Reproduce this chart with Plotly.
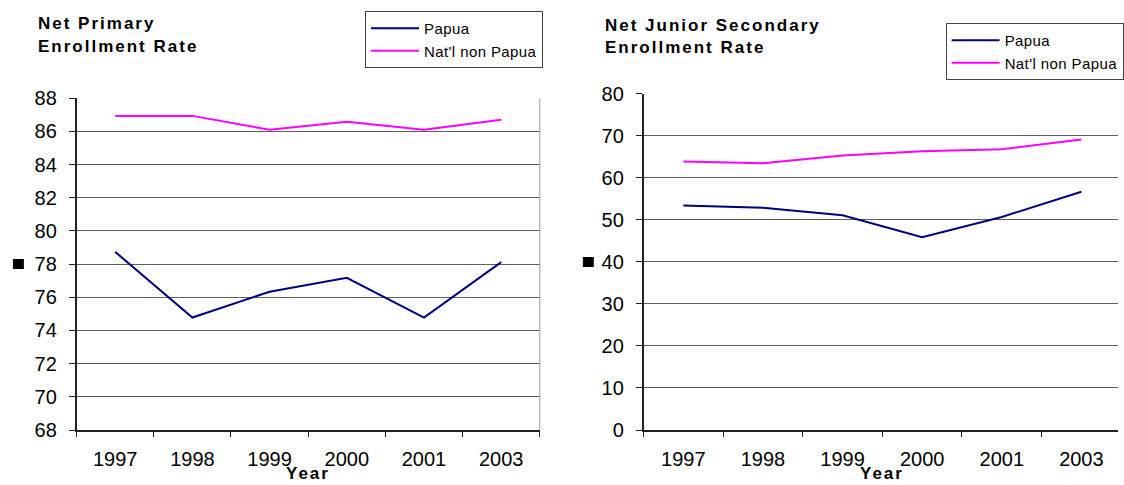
import plotly.graph_objects as go

# Enrollment rates by year
years = ["1997", "1998", "1999", "2000", "2001", "2003"]
primary_papua = [78.74, 74.78, 76.34, 77.18, 74.78, 78.12]
primary_national = [86.94, 86.94, 86.10, 86.58, 86.10, 86.70]
junior_papua = [53.4, 52.9, 51.1, 45.9, 50.7, 56.7]
junior_national = [63.9, 63.5, 65.3, 66.3, 66.8, 69.1]

series_names = ["Papua", "Nat'l non Papua"]
series_colors = ["#000080", "#FF00FF"]

W, H = 1124, 485
FONT = "Liberation Sans, Arial, sans-serif"


def fx(px):
    return px / W


def fy(px):
    return 1 - px / H


def spaced(text, spacing):
    return f"<span style='letter-spacing:{spacing}px'>{text}</span>"


fig = go.Figure()

for name, color, ys in zip(series_names, series_colors, [primary_papua, primary_national]):
    fig.add_trace(go.Scatter(
        x=years, y=ys, name=spaced(name, 0.4), mode="lines",
        line=dict(color=color, width=2),
        xaxis="x", yaxis="y", legend="legend",
    ))

for name, color, ys in zip(series_names, series_colors, [junior_papua, junior_national]):
    fig.add_trace(go.Scatter(
        x=years, y=ys, name=spaced(name, 0.4), mode="lines",
        line=dict(color=color, width=2),
        xaxis="x2", yaxis="y2", legend="legend2",
    ))

tick_font = dict(size=20, color="black", family=FONT)

xcommon = dict(
    type="category", tickson="boundaries", ticks="outside", ticklen=5,
    tickcolor="#222", showline=True, linecolor="#222", linewidth=1.5,
    showgrid=False, tickfont=tick_font, ticklabelstandoff=10,
    automargin=False, fixedrange=True,
)
ycommon = dict(
    ticks="outside", ticklen=6, tickcolor="#222", showline=True,
    linecolor="#222", linewidth=1.5, showgrid=True, gridcolor="#606060",
    gridwidth=1, zeroline=False, tickfont=tick_font, ticklabelstandoff=8,
    automargin=False, fixedrange=True,
)

legend_common = dict(
    xanchor="left", yanchor="top", bordercolor="#444", borderwidth=1,
    bgcolor="white", font=dict(size=15, family=FONT, color="black"),
    itemwidth=48, tracegroupgap=0,
)

fig.update_layout(
    width=W, height=H,
    margin=dict(l=0, r=0, t=0, b=0),
    paper_bgcolor="white", plot_bgcolor="white",
    font=dict(family=FONT, color="black"),
    showlegend=True,
    xaxis=dict(xcommon, domain=[fx(77), fx(542.7)], anchor="y", range=[-0.5, 5.5]),
    yaxis=dict(ycommon, domain=[1 - 430 / H, fy(98.3)], anchor="x",
               range=[68, 88], tick0=68, dtick=2),
    xaxis2=dict(xcommon, domain=[fx(647), 1.0], anchor="y2", range=[-0.5, 5.46]),
    yaxis2=dict(ycommon, domain=[1 - 430 / H, fy(93.8)], anchor="x2",
                range=[0, 80], tick0=0, dtick=10),
    legend=dict(legend_common, x=fx(367), y=fy(11)),
    legend2=dict(legend_common, x=fx(950.7), y=fy(23)),
)


def spaced_bold(text, spacing=2):
    return f"<b>{spaced(text, spacing)}</b>"


titles = [
    ("Net Primary", 35.7, 23.3),
    ("Enrollment Rate", 35.7, 46.3),
    ("Net Junior Secondary", 606, 25.7),
    ("Enrollment Rate", 606, 48.0),
]
for text, x, y in titles:
    fig.add_annotation(
        text=spaced_bold(text), xref="paper", yref="paper",
        x=fx(x), y=fy(y), xanchor="left", yanchor="middle",
        showarrow=False, font=dict(size=17, family=FONT, color="black"),
    )

# Axis titles under each category axis
for xref in ["x", "x2"]:
    fig.add_annotation(
        text=spaced_bold("Year"), xref=xref, yref="paper",
        x=2.5, y=0, xanchor="center", yanchor="bottom",
        showarrow=False, font=dict(size=17, family=FONT, color="black"),
    )

# Right border of the primary-rate plot
fig.add_shape(type="line", xref="x domain", yref="y domain",
              x0=1, x1=1, y0=0, y1=1, line=dict(color="#999999", width=1))

# Small filled squares beside the vertical axes
for x0, y0 in [(13, 259), (586, 257)]:
    fig.add_shape(type="rect", xref="paper", yref="paper",
                  x0=fx(x0), x1=fx(x0 + 11), y0=fy(y0), y1=fy(y0 + 10),
                  fillcolor="black", line=dict(width=0))

fig.write_html("out.html")
